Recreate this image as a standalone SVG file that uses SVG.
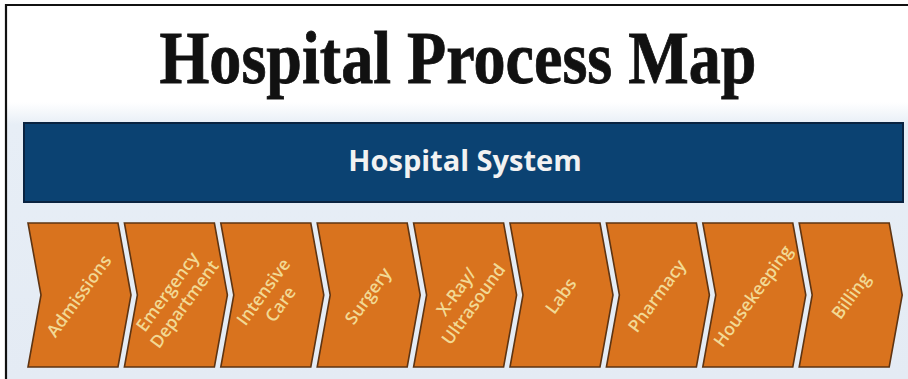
<svg xmlns="http://www.w3.org/2000/svg" width="908" height="379" viewBox="0 0 908 379">
<defs>
<linearGradient id="bg" x1="0" y1="0" x2="0" y2="1">
<stop offset="0" stop-color="#ffffff"/>
<stop offset="0.26" stop-color="#ffffff"/>
<stop offset="0.32" stop-color="#e7eef6"/>
<stop offset="1" stop-color="#e4ebf4"/>
</linearGradient>
<style>
.chev{fill:#d9731e;stroke:#5e3412;stroke-width:1.6;stroke-linejoin:miter}
.lbl{font-family:"Open Sans","Noto Sans",sans-serif;font-weight:600;font-size:17.5px;fill:#f2d994;text-anchor:middle}
.title{font-family:"Liberation Serif","Times New Roman",serif;font-weight:bold;font-size:74px;fill:#111;text-anchor:middle;stroke:#111;stroke-width:0.8}
.sys{font-family:"Open Sans","Noto Sans",sans-serif;font-weight:bold;font-size:29px;fill:#f2f2f2;text-anchor:middle}
</style>
</defs>
<rect x="0" y="0" width="908" height="379" fill="#ffffff"/>
<rect x="6" y="5" width="902" height="374" fill="url(#bg)"/>
<path d="M6,379 V5 H908" fill="none" stroke="#111" stroke-width="2.2"/>

<g id="title">
<text class="title" x="458" y="83" textLength="597" lengthAdjust="spacingAndGlyphs">Hospital Process Map</text>
</g>

<g id="hospital-system">
<rect x="24" y="123" width="879" height="79" fill="#0b4272" stroke="#0a2340" stroke-width="2"/>
<text class="sys" x="465" y="171">Hospital System</text>
</g>

<g id="connectors"></g>

<g id="admissions">
<path class="chev" d="M28,223 H118 L131,295 L118,367 H28 L41,295 Z"/>
<text class="lbl" transform="translate(79,296) rotate(-54)" y="6">Admissions</text>
</g>
<g id="emergency">
<path class="chev" d="M124.4,223 H214.4 L227.4,295 L214.4,367 H124.4 L137.4,295 Z"/>
<text class="lbl" transform="translate(176,298) rotate(-54)"><tspan x="0" y="-4.5">Emergency</tspan><tspan x="0" y="16.5">Department</tspan></text>
</g>
<g id="intensive-care">
<path class="chev" d="M220.8,223 H310.8 L323.8,295 L310.8,367 H220.8 L233.8,295 Z"/>
<text class="lbl" transform="translate(272,298) rotate(-54)"><tspan x="0" y="-4.5">Intensive</tspan><tspan x="0" y="16.5">Care</tspan></text>
</g>
<g id="surgery">
<path class="chev" d="M317.2,223 H407.2 L420.2,295 L407.2,367 H317.2 L330.2,295 Z"/>
<text class="lbl" transform="translate(368,296) rotate(-54)" y="6">Surgery</text>
</g>
<g id="xray">
<path class="chev" d="M413.6,223 H503.6 L516.6,295 L503.6,367 H413.6 L426.6,295 Z"/>
<text class="lbl" transform="translate(465,298) rotate(-54)"><tspan x="0" y="-4.5">X-Ray/</tspan><tspan x="0" y="16.5">Ultrasound</tspan></text>
</g>
<g id="labs">
<path class="chev" d="M510,223 H600 L613,295 L600,367 H510 L523,295 Z"/>
<text class="lbl" transform="translate(561,296) rotate(-54)" y="6">Labs</text>
</g>
<g id="pharmacy">
<path class="chev" d="M606.4,223 H696.4 L709.4,295 L696.4,367 H606.4 L619.4,295 Z"/>
<text class="lbl" transform="translate(657,296) rotate(-54)" y="6">Pharmacy</text>
</g>
<g id="housekeeping">
<path class="chev" d="M702.8,223 H792.8 L805.8,295 L792.8,367 H702.8 L715.8,295 Z"/>
<text class="lbl" transform="translate(753,296) rotate(-54)" y="6">Housekeeping</text>
</g>
<g id="billing">
<path class="chev" d="M799.2,223 H889.2 L902.2,295 L889.2,367 H799.2 L812.2,295 Z"/>
<text class="lbl" transform="translate(851,296) rotate(-54)" y="6">Billing</text>
</g>
</svg>
